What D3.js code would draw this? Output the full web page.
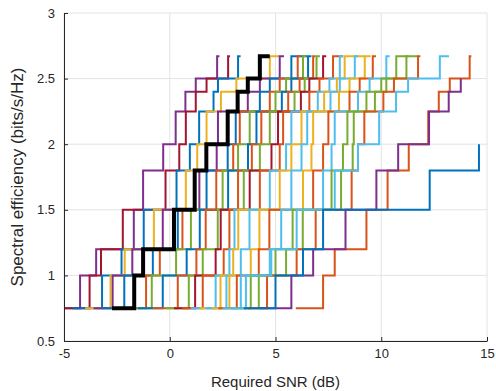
<!DOCTYPE html>
<html><head><meta charset="utf-8">
<script src="https://cdn.jsdelivr.net/npm/d3@7"></script>
<style>
body{margin:0;background:#fff}
svg{display:block}
text{font-family:"Liberation Sans",Arial,Helvetica,sans-serif;fill:#262626}
</style>
</head><body>
<svg id="chart" width="496" height="391"></svg>
<script>
// Spectral efficiency levels (bits/s/Hz), one per MCS step
const levels = [0.75, 1.0, 1.2, 1.5, 1.8, 2.0, 2.25, 2.4, 2.5, 2.67];
const xTicks = [-5, 0, 5, 10, 15];
const yTicks = [0.5, 1, 1.5, 2, 2.5, 3];

// Required SNR thresholds (dB) at which each curve reaches each level
const m01 = [-5.5, -4.24, -3.48, -1.7, -1.26, -0.31, 0.28, 0.74, 1.23, 2.24];
const m02 = [-5.5, -3.79, -3.25, -2.22, -0.2, 0.45, 0.76, 1.23, 1.74, 2.76];
const m03 = [-4.6, -3.2, -2.28, -1.23, 0.32, 0.95, 1.39, 2.07, 2.28, 3.23];
const m04 = [-4.0, -2.8, -2.13, -0.75, 0.76, 1.3, 1.74, 2.42, 3.15, 4.73];
const m05 = [-3.6, -2.7, -1.77, -0.33, 1.4, 2.22, 2.28, 3.69, 4.26, 5.2];
const m06 = [-3.2, -2.15, -0.8, 0.38, 1.74, 2.74, 3.12, 4.26, 4.73, 5.75];
const m07 = [-2.4, -1.12, -0.47, 0.6, 2.2, 3.0, 3.31, 4.73, 5.2, 6.05];
const m08 = [-2.0, -0.85, 0.3, 1.0, 2.5, 3.23, 3.78, 5.0, 5.5, 6.3];
const m09 = [-1.5, -0.33, 0.8, 1.42, 2.76, 3.7, 4.1, 5.3, 5.75, 6.54];
const m10 = [-0.8, 0.38, 1.26, 1.7, 3.23, 3.88, 4.33, 5.6, 6.14, 6.78];
const m11 = [-0.2, 0.9, 1.56, 2.27, 3.5, 4.26, 4.73, 5.9, 6.38, 6.94];
const m12 = [0.2, 1.2, 2.17, 2.41, 3.78, 4.81, 5.12, 6.2, 6.6, 7.25];
const m13 = [0.6, 1.56, 2.55, 2.82, 4.26, 5.2, 5.36, 6.6, 7.08, 7.72];
const m14 = [1.0, 2.17, 2.82, 3.06, 4.73, 5.5, 5.75, 7.0, 7.55, 8.04];
const m15 = [1.4, 2.4, 3.0, 3.24, 5.2, 5.75, 6.23, 7.3, 7.9, 8.27];
const m16 = [1.7, 2.68, 3.36, 3.77, 5.75, 6.23, 6.5, 7.6, 8.04, 8.75];
const m17 = [2.0, 2.82, 3.83, 4.24, 6.3, 6.7, 6.78, 8.0, 8.5, 9.22];
const m18 = [2.3, 3.17, 4.21, 4.71, 6.78, 7.25, 7.5, 8.5, 8.98, 9.6];
const m19 = [2.5, 3.36, 4.73, 5.27, 7.25, 7.65, 7.8, 8.9, 9.45, 10.24];
const m20 = [2.9, 3.83, 5.0, 5.81, 7.65, 8.19, 8.4, 9.3, 10.0, 10.71];
const m21 = [3.3, 4.21, 5.5, 6.29, 8.1, 8.65, 8.7, 9.7, 10.24, 11.19];
const m22 = [3.7, 4.6, 6.0, 6.9, 8.6, 8.9, 9.2, 10.1, 10.6, 11.74];
const m23 = [2.9, 3.6, 4.8, 6.0, 7.8, 8.9, 9.9, 10.7, 11.27, 12.77];
const m24 = [5.96, 7.25, 7.8, 9.3, 10.3, 11.3, 12.22, 12.72, 13.24, 14.18];
const m25 = [4.24, 5.75, 6.78, 8.31, 9.77, 10.8, 12.26, 13.19, 13.76];
const m26 = [3.5, 5.0, 6.3, 7.25, 12.29, 14.62];
const reference = [-2.73, -1.68, -1.26, 0.2, 1.18, 1.73, 2.74, 3.21, 3.69, 4.26];

// SNR where the last (top) level segment ends
const curveEnds = [2.35, 2.85, 3.35, 5.2, 5.4, 6.5, 6.2, 6.45, 6.7, 6.9, 7.1, 7.4, 8.2, 8.2,
                   9.22, 8.9, 9.5, 9.75, 10.4, 11.74, 11.3, 11.85, 13.2, 14.26, null, null];
const referenceEnd = 4.73;

const curves = [m01, m02, m03, m04, m05, m06, m07, m08, m09, m10, m11, m12, m13,
                m14, m15, m16, m17, m18, m19, m20, m21, m22, m23, m24, m25, m26];

// MATLAB default colour order names for each curve
const curveColorNames = ["purple", "red", "blue", "yellow", "purple", "blue", "orange", "green",
  "blue", "orange", "green", "red", "orange", "lightblue", "yellow", "lightblue", "yellow",
  "orange", "lightblue", "green", "green", "orange", "lightblue", "orange", "purple", "blue"];
const palette = {blue:"#0072BD", orange:"#D95319", yellow:"#EDB120", purple:"#7E2F8E",
                 green:"#77AC30", lightblue:"#4DBEEE", red:"#A2142F"};

const W = 496, H = 391;
const margin = {left: 64, right: 9, top: 13, bottom: 50};
const svg = d3.select("#chart");
const x = d3.scaleLinear().domain([-5, 15]).range([margin.left, W - margin.right]);
const y = d3.scaleLinear().domain([0.5, 3]).range([H - margin.bottom, margin.top]);

svg.append("defs").append("clipPath").attr("id", "clip")
  .append("rect").attr("x", x(-5)).attr("y", y(3)).attr("width", x(15) - x(-5)).attr("height", y(0.5) - y(3));

// grid
const grid = svg.append("g");
grid.selectAll("line.gx").data(xTicks).join("line")
  .attr("x1", d => x(d)).attr("x2", d => x(d)).attr("y1", y(0.5)).attr("y2", y(3))
  .attr("stroke", "#e3e3e3").attr("stroke-width", 1);
grid.selectAll("line.gy").data(yTicks).join("line")
  .attr("y1", d => y(d)).attr("y2", d => y(d)).attr("x1", x(-5)).attr("x2", x(15))
  .attr("stroke", "#e3e3e3").attr("stroke-width", 1);

const line = d3.line().x(d => x(d[0])).y(d => y(d[1])).curve(d3.curveStepAfter);
function pts(th, end) {
  const p = th.map((v, i) => [v, levels[i]]);
  if (end != null) p.push([end, levels[th.length - 1]]);
  return p;
}

const plot = svg.append("g").attr("clip-path", "url(#clip)");
curves.forEach((c, i) => {
  plot.append("path").attr("d", line(pts(c, curveEnds[i])))
    .attr("fill", "none").attr("stroke", palette[curveColorNames[i]])
    .attr("stroke-width", 2).attr("stroke-linejoin", "miter");
});
plot.append("path").attr("d", line(pts(reference, referenceEnd)))
  .attr("fill", "none").attr("stroke", "#000").attr("stroke-width", 4);

// axes
const xAxis = d3.axisBottom(x).tickValues(xTicks).tickSizeInner(-4).tickSizeOuter(0).tickPadding(8)
  .tickFormat(d3.format("d"));
const gx = svg.append("g").attr("transform", `translate(0,${y(0.5)})`).call(xAxis);
const yAxis = d3.axisLeft(y).tickValues(yTicks).tickSizeInner(-4).tickSizeOuter(0).tickPadding(9)
  .tickFormat(d => d3.format("")(d));
const gy = svg.append("g").attr("transform", `translate(${x(-5)},0)`).call(yAxis);
[gx, gy].forEach(g => {
  g.select(".domain").attr("stroke", "#262626").attr("stroke-width", 1);
  g.selectAll(".tick line").attr("stroke", "#262626");
  g.selectAll(".tick text").attr("font-size", 13).attr("fill", "#262626")
    .style("font-family", '"Liberation Sans",Arial,sans-serif');
});
gx.selectAll(".tick text").text(d => d < 0 ? "-" + Math.abs(d) : d);

svg.append("text").attr("x", (x(-5) + x(15)) / 2).attr("y", 387).attr("text-anchor", "middle")
  .attr("font-size", 15).text("Required SNR (dB)");
svg.append("text").attr("transform", `translate(23,${(y(0.5) + y(3)) / 2}) rotate(-90)`)
  .attr("text-anchor", "middle").attr("font-size", 17).text("Spectral efficiency (bits/s/Hz)");
</script>
</body></html>
